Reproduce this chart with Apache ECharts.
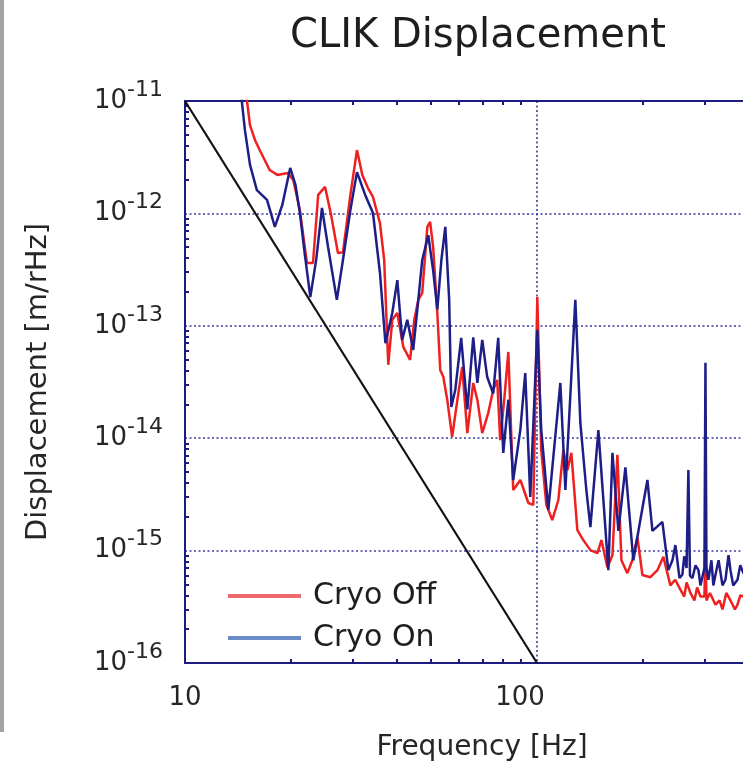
<!DOCTYPE html>
<html><head><meta charset="utf-8">
<script src="https://cdn.jsdelivr.net/npm/echarts@6/dist/echarts.min.js"></script>
<style>html,body{margin:0;padding:0;background:#fff}#c{width:743px;height:769px}</style>
</head><body><div id="c"></div>
<script>
// ---- data (frequency in Hz, displacement in m/rHz) ----
const offFreq = [14.7,15.0,15.3,15.8,16.3,17.4,18.3,19.6,20.3,21.2,22.2,23.1,23.9,25.0,26.0,27.2,28.1,29.5,30.8,31.9,33.1,34.2,35.8,36.8,37.8,38.8,40.1,41.7,43.6,44.8,46.0,47.2,48.8,49.7,50.7,52.1,53.1,54.2,55.6,57.4,59.4,61.3,63.4,65.9,67.7,69.9,72.7,75.1,77.1,78.6,80.7,82.9,85.6,89.7,94.5,97.6,100.2,102.8,106.3,110.5,115,118.8,122,125.2,130.2,135.4,141.8,148.5,152.4,158.5,163.8,169.2,173.7,180.6,186.6,192.8,199.3,210,219.8,228.6,239.3,247,255.5,262,266,272.9,280,285,291.3,299,301,303,306.9,310,321.4,330,336.5,345,354.5,365,371.2,378,386,400];
const offVal = [1.5e-11,1.0e-11,6.1e-12,4.5e-12,3.66e-12,2.43e-12,2.2e-12,2.29e-12,1.98e-12,1.07e-12,3.62e-13,3.62e-13,1.46e-12,1.72e-12,9.7e-13,4.45e-13,4.5e-13,1.46e-12,3.66e-12,2.2e-12,1.68e-12,1.40e-12,8.2e-13,3.85e-13,4.5e-14,1.13e-13,1.3e-13,6.5e-14,4.97e-14,1.13e-13,1.7e-13,1.96e-13,7.6e-13,8.4e-13,5.0e-13,1.3e-13,4.05e-14,3.5e-14,2.19e-14,1.03e-14,2.19e-14,4.3e-14,1.11e-14,3.1e-14,2.19e-14,1.11e-14,1.68e-14,2.69e-14,3.3e-14,9.6e-15,2.19e-14,5.85e-14,3.46e-15,4.25e-15,2.65e-15,2.55e-15,1.8e-13,7.85e-15,2.55e-15,1.87e-15,2.82e-15,7.85e-15,5.2e-15,7.4e-15,1.52e-15,1.24e-15,1.01e-15,9.5e-16,1.24e-15,7.1e-16,9.1e-16,7.1e-15,8.2e-16,6.3e-16,8.2e-16,1.32e-15,6.07e-16,5.8e-16,6.7e-16,8.8e-16,4.9e-16,5.5e-16,4.5e-16,3.9e-16,5.2e-16,4.2e-16,3.6e-16,4.7e-16,3.9e-16,3.9e-16,1.12e-15,3.6e-16,3.6e-16,4.2e-16,3.3e-16,3.6e-16,3.0e-16,4.2e-16,3.6e-16,3.0e-16,3.3e-16,4.0e-16,3.9e-16,3.6e-16];

const onFreq = [14.0,14.5,14.8,15.3,16.0,17.1,18.0,18.9,19.9,20.6,21.2,21.9,22.7,23.6,24.5,25.5,27.0,28.1,29.5,30.8,32.5,34.2,35.8,37.1,38.8,40.1,41.4,42.8,44.5,46.0,47.2,49.1,50.7,52.1,53.5,54.9,56.3,57.1,58.6,60.9,63.4,65.9,67.7,69.9,72.2,75.1,77.6,80.2,82.9,85.6,89.7,92.6,95.7,100.2,102.8,107.7,116.5,120.4,128.5,132.8,138.1,141.8,149.4,154.4,159.5,163.8,170.3,178.3,187.8,196.6,205.9,212.8,227.1,236.2,242.5,247.3,254,258.8,262,266,269.2,272,276.5,282,287.5,291.3,299,301,303,306.9,313,317,321.4,328,336.5,343,350,354.5,361,371.2,378,386,400];
const onVal = [2.0e-11,1.0e-11,5.5e-12,2.7e-12,1.61e-12,1.32e-12,7.6e-13,1.19e-12,2.54e-12,1.79e-12,1.01e-12,4.3e-13,1.8e-13,3.9e-13,1.12e-12,5.0e-13,1.7e-13,3.85e-13,1.07e-12,2.33e-12,1.46e-12,1.01e-12,2.95e-13,7.0e-14,1.3e-13,2.55e-13,7.5e-14,1.13e-13,6.1e-14,1.7e-13,3.85e-13,6.4e-13,3.1e-13,1.4e-13,3.85e-13,7.6e-13,1.7e-13,1.9e-14,2.7e-14,7.8e-14,1.8e-14,7.9e-14,3.1e-14,7.5e-14,3.5e-14,2.5e-14,7.8e-14,7.4e-15,2.2e-14,4.25e-15,1.2e-14,3.8e-14,3.0e-15,9.2e-14,1.2e-14,2.3e-15,3.1e-14,3.46e-15,1.7e-13,1.36e-14,3.46e-15,1.62e-15,1.18e-14,2.8e-15,6.7e-16,7.4e-15,1.5e-15,5.5e-15,8.2e-16,1.87e-15,4.25e-15,1.5e-15,1.8e-15,6.7e-16,8.2e-16,1.12e-15,5.7e-16,6.1e-16,8.9e-16,7.0e-16,5.2e-15,6.0e-16,5.7e-16,7.4e-16,6.7e-16,4.9e-16,7.0e-16,4.7e-14,7.0e-16,5.5e-16,8.2e-16,4.9e-16,6.1e-16,8.2e-16,4.9e-16,5.5e-16,9.1e-16,6.7e-16,4.9e-16,5.5e-16,7.4e-16,6.3e-16,6.0e-16];

const refFreq = [10, 100];
const refVal = [1e-11, 1e-16];

const seriesNames = ['Cryo Off', 'Cryo On'];
const minorMultipliers = [2,3,4,5,6,7,8,9];
const xDecadeStarts = [10, 100];
const yDecadeStarts = [1e-16, 1e-15, 1e-14, 1e-13, 1e-12];

// ---- build ----
const zip = (a, b) => a.map((v, i) => [v, b[i]]);
const minorLogs = starts => {
  const out = [];
  starts.forEach(s => minorMultipliers.forEach(m => out.push(Math.log10(s * m))));
  return out;
};
const FONT = 'DejaVu Sans';
const NAVY = '#1b1b82';
const TXT = '#262626';
const grid = { left: 185, top: 101, height: 562, right: -146, outerBoundsMode: 'none' };
const dotted = { color: '#3a3aa0', width: 1.6, type: [2, 2.5] };

const chart = echarts.init(document.getElementById('c'), null, { renderer: 'canvas' });
chart.setOption({
  animation: false,
  backgroundColor: '#ffffff',
  title: {
    text: 'CLIK Displacement', left: 290, top: 17, padding: 0,
    textStyle: { fontFamily: FONT, fontSize: 40, fontWeight: 'normal', color: '#1e1e1e' }
  },
  grid: grid,
  legend: {
    orient: 'vertical', left: 223, top: 575, itemGap: 10,
    itemWidth: 73, itemHeight: 4, icon: 'rect',
    textStyle: { fontFamily: FONT, fontSize: 30, color: '#1e1e1e', lineHeight: 32, padding: [0, 0, 0, 7] },
    data: [
      { name: seriesNames[0], itemStyle: { color: '#ef6a6e' } },
      { name: seriesNames[1], itemStyle: { color: '#6a8bc8' } }
    ]
  },
  graphic: [
    { type: 'rect', left: 0, top: 0, shape: { width: 4, height: 732 }, style: { fill: '#a3a3a3' }, silent: true },
    { type: 'text', x: 482, y: 748, style: { text: 'Frequency [Hz]', font: '28px "DejaVu Sans"', fill: TXT, align: 'center', verticalAlign: 'middle' } }
  ],
  xAxis: [
    {
      type: 'log', logBase: 10, min: 10, max: 1000, position: 'bottom',
      axisLine: { show: true, lineStyle: { color: NAVY, width: 2 } },
      axisTick: { show: false },
      splitLine: { show: true, lineStyle: dotted },
      axisLabel: {
        margin: 22,
        formatter: v => (Math.abs(v - 100) < 1e-6 ? '{c|100}' : '{b|' + Math.round(v) + '}'),
        rich: {
          b: { fontFamily: FONT, fontSize: 26, color: TXT },
          c: { fontFamily: FONT, fontSize: 26, color: TXT, padding: [0, 34, 0, 0] }
        }
      }
    },
    {
      type: 'value', min: 1, max: 3, position: 'bottom',
      axisLine: { show: false }, axisLabel: { show: false }, splitLine: { show: false },
      axisTick: { show: true, inside: true, length: 4, lineStyle: { color: NAVY, width: 2 }, customValues: minorLogs(xDecadeStarts) }
    },
    {
      type: 'value', min: 1, max: 3, position: 'top',
      axisLine: { show: true, lineStyle: { color: NAVY, width: 2 } }, axisLabel: { show: false }, splitLine: { show: false },
      axisTick: { show: true, inside: true, length: 4, lineStyle: { color: NAVY, width: 2 }, customValues: minorLogs(xDecadeStarts) }
    }
  ],
  yAxis: [
    {
      type: 'log', logBase: 10, min: 1e-16, max: 1e-11, position: 'left',
      name: 'Displacement [m/rHz]', nameLocation: 'middle', nameGap: 132,
      nameTextStyle: { fontFamily: FONT, fontSize: 29, color: TXT },
      axisLine: { show: true, lineStyle: { color: NAVY, width: 2 } },
      axisTick: { show: false },
      splitLine: { show: true, lineStyle: dotted },
      axisLabel: {
        margin: 22,
        formatter: v => '{b|10}{s|' + Math.round(Math.log10(v)) + '}',
        rich: {
          b: { fontFamily: FONT, fontSize: 26, color: TXT, lineHeight: 44, verticalAlign: 'middle' },
          s: { fontFamily: FONT, fontSize: 22, color: TXT, lineHeight: 22, verticalAlign: 'top' }
        }
      }
    },
    {
      type: 'value', min: -16, max: -11, position: 'left',
      axisLine: { show: false }, axisLabel: { show: false }, splitLine: { show: false },
      axisTick: { show: true, inside: true, length: 4, lineStyle: { color: NAVY, width: 2 }, customValues: minorLogs(yDecadeStarts) }
    }
  ],
  series: [
    {
      name: 'ref', type: 'line', data: zip(refFreq, refVal), showSymbol: false, z: 2,
      lineStyle: { color: '#111111', width: 2.2 }, itemStyle: { color: '#111111' }
    },
    {
      name: seriesNames[0], type: 'line', data: zip(offFreq, offVal), showSymbol: false, z: 3,
      lineStyle: { color: '#ee2020', width: 2.5 }, itemStyle: { color: '#ee2020' }
    },
    {
      name: seriesNames[1], type: 'line', data: zip(onFreq, onVal), showSymbol: false, z: 4,
      lineStyle: { color: '#1e1e88', width: 2.5 }, itemStyle: { color: '#1e1e88' }
    }
  ]
});
</script>
</body></html>
